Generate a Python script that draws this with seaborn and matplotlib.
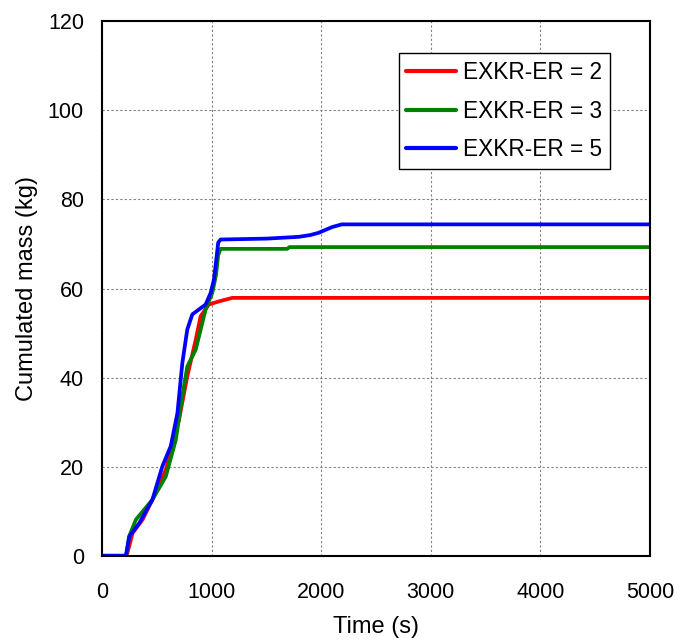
import numpy as np
import pandas as pd
import matplotlib
matplotlib.use("Agg")
import matplotlib.pyplot as plt
import seaborn as sns

# Cumulated mass (kg) versus time (s) for three EXKR-ER values
t_er2 = [0, 225, 279, 370, 460, 582, 703, 778, 855, 900, 975, 1066, 1188, 1500, 5000]
m_er2 = [0, 0, 5.1, 8.1, 12.6, 19.3, 30.6, 40.3, 48.5, 53.8, 56.4, 57.1, 57.9, 57.9, 57.9]

t_er3 = [0, 220, 250, 309, 460, 582, 673, 733, 778, 855, 900, 945, 1006, 1040, 1060, 1082,
         1690, 1710, 5000]
m_er3 = [0, 0, 4.5, 8.1, 12.6, 17.8, 26.0, 35.8, 42.5, 46.3, 50.8, 55.3, 59.0, 63.0, 67.5, 68.9,
         68.9, 69.3, 69.3]

t_er5 = [0, 218, 248, 339, 460, 551, 627, 688, 733, 778, 824, 945, 991, 1021, 1045, 1060,
         1082, 1500, 1794, 1900, 1975, 2100, 2188, 5000]
m_er5 = [0, 0, 4.3, 7.3, 12.6, 20.1, 24.6, 32.0, 43.3, 50.8, 54.2, 56.4, 59.0, 62.0, 67.0, 70.3,
         71.0, 71.2, 71.6, 72.0, 72.5, 73.8, 74.4, 74.4]

labels = ["EXKR-ER = 2", "EXKR-ER = 3", "EXKR-ER = 5"]
colors = ["#ff0000", "#008000", "#0000ff"]

frames = []
for lab, t, m in zip(labels, [t_er2, t_er3, t_er5], [m_er2, m_er3, m_er5]):
    frames.append(pd.DataFrame({"Time": t, "Mass": m, "Case": lab}))
df = pd.concat(frames, ignore_index=True)

sns.set_style("white")
plt.rcParams["font.family"] = ["Liberation Sans", "DejaVu Sans"]
plt.rcParams["text.color"] = "black"
plt.rcParams["axes.labelcolor"] = "black"

fig = plt.figure(figsize=(6.8, 6.44), dpi=100)
ax = fig.add_axes([0.150, 0.137, 0.806, 0.830])

sns.lineplot(data=df, x="Time", y="Mass", hue="Case", hue_order=labels,
             palette=colors, linewidth=2.7, sort=False, estimator=None, ax=ax)

ax.set_xlim(0, 5000)
ax.set_ylim(0, 120)
ax.set_xticks(np.arange(0, 5001, 1000))
ax.set_yticks(np.arange(0, 121, 20))
ax.grid(True, color="#808080", linestyle=(0, (2, 2)), linewidth=0.8)
ax.tick_params(axis="both", labelsize=15.5, length=0, colors="black")
ax.tick_params(axis="x", pad=19)
ax.tick_params(axis="y", pad=13)
for sp in ax.spines.values():
    sp.set_color("black")
    sp.set_linewidth(1.5)

ax.set_xlabel("Time (s)", fontsize=17, labelpad=9, color="black")
ax.set_ylabel("Cumulated mass (kg)", fontsize=17, labelpad=7, color="black")

leg = ax.legend(loc="upper right", bbox_to_anchor=(0.927, 0.940), fontsize=16.3,
                frameon=True, fancybox=False, edgecolor="black", framealpha=1,
                handlelength=2.2, handletextpad=0.3, labelspacing=0.68,
                borderpad=0.35, borderaxespad=0)
leg.get_frame().set_linewidth(1.0)
for line in leg.get_lines():
    line.set_linewidth(3)

fig.savefig("out.png", dpi=100)
